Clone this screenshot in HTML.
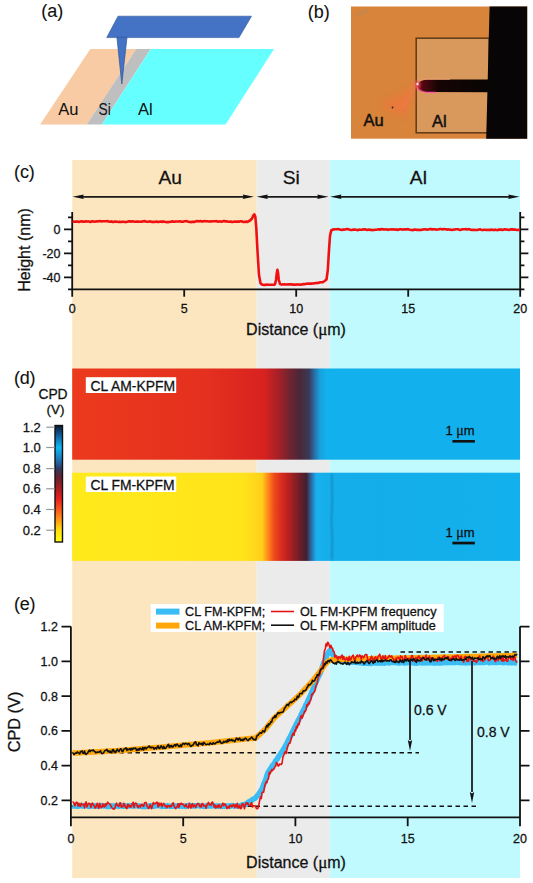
<!DOCTYPE html><html><head><meta charset="utf-8"><style>
html,body{margin:0;padding:0;background:#fff;width:533px;height:883px;overflow:hidden}
svg{display:block}
text{font-family:"Liberation Sans",sans-serif;fill:#111;stroke:#111;stroke-width:0.28px}
</style></head><body>
<svg width="533" height="883" viewBox="0 0 533 883">
<defs>
<linearGradient id="amg" x1="72.2" x2="520" y1="0" y2="0" gradientUnits="userSpaceOnUse">
<stop offset="0" stop-color="#EC3A1E"/>
<stop offset="0.30" stop-color="#E4301E"/>
<stop offset="0.428" stop-color="#D82220"/>
<stop offset="0.464" stop-color="#A02028"/>
<stop offset="0.486" stop-color="#6E2430"/>
<stop offset="0.509" stop-color="#4A2838"/>
<stop offset="0.529" stop-color="#3A3A5A"/>
<stop offset="0.540" stop-color="#2A6AA0"/>
<stop offset="0.553" stop-color="#18A0DC"/>
<stop offset="0.567" stop-color="#12B0EC"/>
<stop offset="1" stop-color="#12B0EC"/>
</linearGradient>
<linearGradient id="fmg" x1="72.2" x2="520" y1="0" y2="0" gradientUnits="userSpaceOnUse">
<stop offset="0" stop-color="#FFEA1C"/>
<stop offset="0.38" stop-color="#FFE41A"/>
<stop offset="0.424" stop-color="#FFD01A"/>
<stop offset="0.437" stop-color="#FF8A1A"/>
<stop offset="0.451" stop-color="#EE4A1C"/>
<stop offset="0.468" stop-color="#D82A1E"/>
<stop offset="0.486" stop-color="#B02020"/>
<stop offset="0.509" stop-color="#6A1E28"/>
<stop offset="0.523" stop-color="#402030"/>
<stop offset="0.534" stop-color="#2A6AA8"/>
<stop offset="0.545" stop-color="#18B0EE"/>
<stop offset="0.58" stop-color="#14AEEA"/>
<stop offset="1" stop-color="#12B0EC"/>
</linearGradient>
<linearGradient id="cbg" x1="0" x2="0" y1="0" y2="1">
<stop offset="0" stop-color="#0A1A30"/>
<stop offset="0.08" stop-color="#105A98"/>
<stop offset="0.19" stop-color="#10B8F5"/>
<stop offset="0.30" stop-color="#2070B0"/>
<stop offset="0.37" stop-color="#303A60"/>
<stop offset="0.45" stop-color="#6A2030"/>
<stop offset="0.55" stop-color="#B01C20"/>
<stop offset="0.63" stop-color="#E82020"/>
<stop offset="0.76" stop-color="#FF7018"/>
<stop offset="0.9" stop-color="#FFE010"/>
<stop offset="1" stop-color="#FFFF10"/>
</linearGradient>
<filter id="blur3" x="-50%" y="-50%" width="200%" height="200%"><feGaussianBlur stdDeviation="3.5"/></filter>
<filter id="blur1" x="-50%" y="-50%" width="200%" height="200%"><feGaussianBlur stdDeviation="1.2"/></filter>
<filter id="blur2" x="-50%" y="-50%" width="200%" height="200%"><feGaussianBlur stdDeviation="2.5"/></filter>
<linearGradient id="cantg" x1="416" x2="490" y1="0" y2="0" gradientUnits="userSpaceOnUse">
<stop offset="0" stop-color="#9A0A1C"/>
<stop offset="0.1" stop-color="#500810"/>
<stop offset="0.3" stop-color="#160404"/>
<stop offset="1" stop-color="#080505"/>
</linearGradient>
<radialGradient id="glow" cx="0.5" cy="0.5" r="0.5">
<stop offset="0" stop-color="#FF6060" stop-opacity="0.9"/>
<stop offset="1" stop-color="#FF6060" stop-opacity="0"/>
</radialGradient>
<marker id="ah" viewBox="0 0 12 6" refX="12" refY="3" markerWidth="12" markerHeight="6" markerUnits="userSpaceOnUse" orient="auto">
<path d="M0,0 L12,3 L0,6 L3,3 z" fill="#222"/>
</marker>
</defs>

<rect x="72.2" y="160" width="184.5" height="718" fill="#FCE6C0"/>
<rect x="256.7" y="160" width="73.1" height="718" fill="#EBEBEB"/>
<rect x="329.8" y="160" width="190.2" height="718" fill="#C0FAFE"/>
<text x="41.2" y="17.2" font-size="18" textLength="22" lengthAdjust="spacing" style="stroke-width:0.1px">(a)</text>
<polygon points="90.3,49 136.2,49 86.7,124.4 40.1,124.4" fill="#F8CBA4"/>
<polygon points="136.2,49 150.7,49 101.8,124.4 86.7,124.4" fill="#BFBFBF"/>
<polygon points="150.7,49 274,49 225.6,124.4 101.8,124.4" fill="#66FFFF"/>
<polygon points="118,16.2 251.5,16.2 239,37.6 106.7,37.6" fill="#4472C4" stroke="#2F5597" stroke-width="0.6"/>
<polygon points="116.9,37.3 127,37.3 121.8,84" fill="#4472C4" stroke="#2F5597" stroke-width="0.7"/>
<text x="58.2" y="114.5" font-size="16.5" style="stroke-width:0.05px">Au</text>
<text x="98.6" y="114.5" font-size="16.5" textLength="12.2" lengthAdjust="spacingAndGlyphs" style="stroke-width:0.05px">Si</text>
<text x="138" y="114.5" font-size="16.5" style="stroke-width:0.05px">Al</text>
<text x="307.8" y="18" font-size="18" textLength="22" lengthAdjust="spacing" style="stroke-width:0.1px">(b)</text>
<rect x="351" y="6.5" width="176.2" height="132.2" fill="#D8843A"/>
<path d="M356,15 L366,9 L368,11 L358,17 z" fill="#A88A70" opacity="0.45" filter="url(#blur1)"/>
<rect x="416.2" y="38.2" width="73" height="94.6" fill="#DA995C" stroke="#5E3A18" stroke-width="1.5"/>
<path d="M416.5,86 L405,118 L378,104 z" fill="#FF6A40" opacity="0.4" filter="url(#blur3)"/>
<path d="M416.5,86 L400,106 L404,108 z" fill="#FF7858" opacity="0.35" filter="url(#blur1)"/>
<polygon points="489.6,6.5 527.2,6.5 527.2,138.7 486.2,138.7" fill="#070505"/>
<path d="M490,79.6 L425,79.6 Q418,80 416,85.5 Q418,91.5 425,92 L490,92.3 z" fill="url(#cantg)"/>
<path d="M417,87 Q419,91 426,92.3 L436,92.5" stroke="#FF50B0" stroke-width="1.3" fill="none" opacity="0.85"/>
<path d="M418,83 Q420,80 426,79.3 L450,79.2" stroke="#FFB080" stroke-width="1.1" fill="none" opacity="0.75"/>
<ellipse cx="417" cy="85" rx="5" ry="6" fill="url(#glow)"/>
<circle cx="417.5" cy="84" r="1.2" fill="#FFE0F0"/>
<circle cx="392.5" cy="107.5" r="0.9" fill="#222"/>
<text x="363.5" y="126.3" font-size="16.5" style="stroke-width:0.5px">Au</text>
<text x="432" y="126.5" font-size="16.5" style="stroke-width:0.5px">Al</text>
<text x="14" y="177.9" font-size="18" textLength="20.8" lengthAdjust="spacing" style="stroke-width:0.1px">(c)</text>
<text x="170.3" y="184" font-size="19.2" text-anchor="middle">Au</text>
<text x="291.3" y="184" font-size="19.2" text-anchor="middle">Si</text>
<text x="418.4" y="184" font-size="19.2" text-anchor="middle">Al</text>
<line x1="80.5" y1="196.8" x2="246.0" y2="196.8" stroke="#1a1a1a" stroke-width="1.8"/>
<path d="M72.5,196.8 L83.8,194.5 L82.8,196.8 L83.8,199.1 z" fill="#111"/>
<path d="M254.0,196.8 L242.7,194.5 L243.7,196.8 L242.7,199.1 z" fill="#111"/>
<line x1="264.6" y1="196.8" x2="320.5" y2="196.8" stroke="#1a1a1a" stroke-width="1.8"/>
<path d="M256.6,196.8 L267.9,194.5 L266.9,196.8 L267.9,199.1 z" fill="#111"/>
<path d="M328.5,196.8 L317.2,194.5 L318.2,196.8 L317.2,199.1 z" fill="#111"/>
<line x1="338.2" y1="196.8" x2="511.5" y2="196.8" stroke="#1a1a1a" stroke-width="1.8"/>
<path d="M330.2,196.8 L341.5,194.5 L340.5,196.8 L341.5,199.1 z" fill="#111"/>
<path d="M519.5,196.8 L508.2,194.5 L509.2,196.8 L508.2,199.1 z" fill="#111"/>
<path d="M72.2,211.9 V296.7 M520.2,211.9 V296.7 M72.2,289.4 H520.2" stroke="#111" stroke-width="1.8" fill="none"/>
<path d="M184.2,289.4 V296.7" stroke="#111" stroke-width="1.8" fill="none"/>
<path d="M296.2,289.4 V296.7" stroke="#111" stroke-width="1.8" fill="none"/>
<path d="M408.2,289.4 V296.7" stroke="#111" stroke-width="1.8" fill="none"/>
<path d="M64,229.3 H72.2 M520.2,229.3 H528.4" stroke="#111" stroke-width="1.8" fill="none"/>
<path d="M64,253.3 H72.2 M520.2,253.3 H528.4" stroke="#111" stroke-width="1.8" fill="none"/>
<path d="M64,277.3 H72.2 M520.2,277.3 H528.4" stroke="#111" stroke-width="1.8" fill="none"/>
<path d="M68,217.3 H72.2 M520.2,217.3 H524.4" stroke="#111" stroke-width="1.8" fill="none"/>
<path d="M68,241.3 H72.2 M520.2,241.3 H524.4" stroke="#111" stroke-width="1.8" fill="none"/>
<path d="M68,265.3 H72.2 M520.2,265.3 H524.4" stroke="#111" stroke-width="1.8" fill="none"/>
<path d="M68,289.3 H72.2 M520.2,289.3 H524.4" stroke="#111" stroke-width="1.8" fill="none"/>
<text x="60.5" y="233.6" font-size="12.5" text-anchor="end">0</text>
<text x="60.5" y="257.6" font-size="12.5" text-anchor="end">-20</text>
<text x="60.5" y="281.6" font-size="12.5" text-anchor="end">-40</text>
<text x="72.2" y="313" font-size="12.5" text-anchor="middle">0</text>
<text x="184.2" y="313" font-size="12.5" text-anchor="middle">5</text>
<text x="296.2" y="313" font-size="12.5" text-anchor="middle">10</text>
<text x="408.2" y="313" font-size="12.5" text-anchor="middle">15</text>
<text x="520.2" y="313" font-size="12.5" text-anchor="middle">20</text>
<text x="296" y="334.8" font-size="16" text-anchor="middle">Distance (<tspan font-family="Liberation Serif" font-size="17">μ</tspan>m)</text>
<text transform="translate(29.5,250) rotate(-90)" font-size="16" text-anchor="middle">Height (nm)</text>
<polyline points="72.5,221.3 73.5,221.7 74.5,221.8 75.5,221.6 76.5,221.6 77.5,221.6 78.5,221.7 79.5,221.9 80.5,221.5 81.5,221.2 82.5,221.6 83.5,221.5 84.5,221.8 85.5,221.3 86.5,221.4 87.5,221.6 88.5,221.4 89.5,221.8 90.5,222.0 91.5,221.5 92.5,221.2 93.5,221.4 94.5,221.8 95.5,221.6 96.5,221.4 97.5,221.4 98.5,221.2 99.5,221.1 100.5,221.3 101.5,221.4 102.5,221.3 103.5,221.2 104.5,221.2 105.5,221.3 106.5,221.3 107.5,221.1 108.5,221.5 109.5,221.6 110.5,221.7 111.5,221.4 112.5,221.9 113.5,222.0 114.5,221.6 115.5,221.5 116.5,221.7 117.5,221.8 118.5,222.0 119.5,221.8 120.5,222.0 121.5,221.9 122.5,221.7 123.5,221.7 124.5,221.9 125.5,222.1 126.5,221.9 127.5,221.8 128.5,221.4 129.5,221.3 130.5,221.6 131.5,221.6 132.5,221.3 133.5,221.5 134.5,221.7 135.5,221.8 136.5,221.6 137.5,221.6 138.5,221.6 139.5,221.8 140.5,221.7 141.5,221.6 142.5,221.6 143.5,221.3 144.5,221.1 145.5,221.4 146.5,221.8 147.5,221.8 148.5,221.7 149.5,221.4 150.5,221.5 151.5,221.9 152.5,222.0 153.5,221.8 154.5,222.0 155.5,221.7 156.5,221.6 157.5,221.9 158.5,221.9 159.5,221.7 160.5,221.5 161.5,221.6 162.5,221.9 163.5,221.4 164.5,221.7 165.5,221.9 166.5,222.1 167.5,222.0 168.5,222.1 169.5,221.9 170.5,221.8 171.5,221.7 172.5,221.3 173.5,221.7 174.5,221.7 175.5,221.5 176.5,221.5 177.5,221.5 178.5,221.5 179.5,221.4 180.5,221.5 181.5,221.6 182.5,221.7 183.5,221.6 184.5,221.3 185.5,221.2 186.5,221.1 187.5,221.4 188.5,221.7 189.5,221.9 190.5,222.0 191.5,222.1 192.5,221.7 193.5,221.9 194.5,221.9 195.5,221.5 196.5,221.2 197.5,221.0 198.5,221.4 199.5,221.3 200.5,221.1 201.5,221.4 202.5,221.4 203.5,221.2 204.5,221.1 205.5,221.3 206.5,221.2 207.5,221.2 208.5,221.5 209.5,221.5 210.5,221.4 211.5,221.5 212.5,221.2 213.5,221.3 214.5,221.3 215.5,221.2 216.5,221.1 217.5,221.6 218.5,221.6 219.5,221.4 220.5,221.5 221.5,221.8 222.5,221.4 223.5,221.1 224.5,221.1 225.5,221.4 226.5,221.3 227.5,221.5 228.5,221.7 229.5,221.7 230.5,221.5 231.5,221.9 232.5,222.0 233.5,221.8 234.5,221.5 235.5,221.7 236.5,221.6 237.5,221.6 238.5,221.5 239.5,221.6 240.5,221.3 241.5,221.3 242.5,221.7 243.5,222.0 244.5,221.7 245.5,221.9 246.5,221.6 247.5,221.9 250.0,220.5 252.0,218.5 253.3,215.5 254.3,214.3 255.3,216.5 256.3,228.0 257.5,251.0 259.0,275.0 260.5,283.3 262.0,284.6 263.0,284.7 264.0,284.9 265.0,285.0 266.0,284.7 267.0,284.5 268.0,284.7 269.0,284.8 270.0,284.8 271.0,284.7 272.0,284.7 273.0,284.8 274.0,284.8 275.0,284.3 276.0,280.0 276.8,273.0 277.4,269.8 278.0,272.5 278.8,280.0 280.0,284.0 281.5,284.6 282.5,284.4 283.5,284.5 284.5,284.4 285.5,284.5 286.5,284.5 287.5,284.4 288.5,284.2 289.5,284.5 290.5,284.4 291.5,284.3 292.5,284.6 293.5,284.5 294.5,284.7 295.5,284.6 296.5,284.6 297.5,284.4 298.5,284.5 299.5,284.7 300.5,284.6 301.5,284.5 302.5,284.4 303.5,284.1 304.5,284.1 305.5,284.0 306.5,283.8 307.5,283.5 308.5,283.7 309.5,283.6 310.5,283.5 311.5,283.6 312.5,283.5 313.5,283.4 314.5,283.2 315.5,283.2 316.5,282.9 317.5,283.0 318.5,282.9 319.5,282.6 320.5,282.3 321.5,282.2 322.5,282.3 324.6,281.0 326.5,279.5 327.8,270.0 329.0,250.0 330.0,236.0 331.2,230.5 333.0,229.5 334.0,229.4 335.0,229.2 336.0,229.3 337.0,229.2 338.0,229.0 339.0,229.2 340.0,229.7 341.0,229.8 342.0,229.9 343.0,229.6 344.0,229.6 345.0,229.5 346.0,229.3 347.0,229.1 348.0,229.1 349.0,229.6 350.0,229.8 351.0,230.0 352.0,230.0 353.0,229.6 354.0,229.5 355.0,229.6 356.0,229.8 357.0,230.0 358.0,230.1 359.0,229.6 360.0,229.7 361.0,229.8 362.0,229.7 363.0,229.4 364.0,229.5 365.0,229.2 366.0,229.7 367.0,229.9 368.0,229.8 369.0,229.6 370.0,229.9 371.0,229.8 372.0,230.0 373.0,230.1 374.0,229.9 375.0,229.7 376.0,229.7 377.0,229.6 378.0,229.4 379.0,229.3 380.0,229.7 381.0,229.3 382.0,229.1 383.0,229.4 384.0,229.3 385.0,229.5 386.0,229.5 387.0,229.4 388.0,229.9 389.0,229.5 390.0,229.5 391.0,229.3 392.0,229.5 393.0,229.4 394.0,229.4 395.0,229.6 396.0,229.5 397.0,229.6 398.0,229.9 399.0,229.5 400.0,229.2 401.0,229.2 402.0,229.5 403.0,229.6 404.0,229.4 405.0,229.4 406.0,229.2 407.0,229.4 408.0,229.1 409.0,229.5 410.0,229.8 411.0,230.0 412.0,230.0 413.0,230.2 414.0,229.6 415.0,229.5 416.0,229.8 417.0,229.9 418.0,229.7 419.0,230.0 420.0,229.9 421.0,230.0 422.0,229.7 423.0,229.4 424.0,229.5 425.0,229.3 426.0,229.3 427.0,229.8 428.0,229.6 429.0,229.2 430.0,229.1 431.0,229.0 432.0,229.5 433.0,229.4 434.0,229.3 435.0,229.2 436.0,229.7 437.0,229.6 438.0,229.4 439.0,229.2 440.0,229.0 441.0,229.0 442.0,229.4 443.0,229.2 444.0,229.0 445.0,229.3 446.0,229.2 447.0,229.7 448.0,229.4 449.0,229.5 450.0,229.7 451.0,229.6 452.0,230.0 453.0,229.8 454.0,229.5 455.0,229.5 456.0,229.2 457.0,229.3 458.0,229.2 459.0,229.7 460.0,229.9 461.0,229.8 462.0,229.4 463.0,229.3 464.0,229.2 465.0,229.2 466.0,229.1 467.0,229.6 468.0,229.3 469.0,229.1 470.0,229.6 471.0,229.7 472.0,230.0 473.0,229.8 474.0,230.0 475.0,229.9 476.0,230.0 477.0,230.0 478.0,229.9 479.0,229.5 480.0,229.3 481.0,229.7 482.0,229.9 483.0,230.1 484.0,229.8 485.0,229.8 486.0,230.0 487.0,229.9 488.0,230.0 489.0,229.9 490.0,229.9 491.0,229.9 492.0,229.6 493.0,229.9 494.0,230.1 495.0,229.6 496.0,229.9 497.0,230.1 498.0,230.0 499.0,229.5 500.0,229.9 501.0,229.5 502.0,229.9 503.0,229.9 504.0,229.5 505.0,229.3 506.0,229.5 507.0,229.6 508.0,229.8 509.0,230.0 510.0,229.6 511.0,229.3 512.0,229.7 513.0,229.3 514.0,229.7 515.0,229.4 516.0,229.7 517.0,229.9 518.0,230.0 519.0,229.9 520.0,230.0" fill="none" stroke="#F01010" stroke-width="2.6" stroke-linejoin="round"/>
<text x="14" y="384.3" font-size="18" textLength="21.4" lengthAdjust="spacing" style="stroke-width:0.1px">(d)</text>
<text x="53" y="399" font-size="13.8" text-anchor="middle">CPD</text>
<text x="55.5" y="413.8" font-size="13.5" text-anchor="middle">(V)</text>
<rect x="72.2" y="368.5" width="447.8" height="91.2" fill="url(#amg)"/>
<rect x="72.2" y="472.7" width="447.8" height="88.2" fill="url(#fmg)"/>
<rect x="85.8" y="377.2" width="90.4" height="15.8" fill="#fff"/>
<path d="M331.5,474 L332.5,500 L331,520 L332.5,540 L331.8,560" stroke="#1A6AA0" stroke-width="1.8" fill="none" opacity="0.55" filter="url(#blur1)"/>
<rect x="85.8" y="476.5" width="90.4" height="15.5" fill="#fff"/>
<text x="90.5" y="390.5" font-size="13.9" textLength="84.5" lengthAdjust="spacing">CL AM-KPFM</text>
<text x="90.5" y="489.6" font-size="13.9" textLength="84" lengthAdjust="spacing">CL FM-KPFM</text>
<text x="460" y="435" font-size="13" text-anchor="middle">1 <tspan font-family="Liberation Serif" font-size="14">μ</tspan>m</text>
<rect x="452.4" y="440" width="22.5" height="2.6" fill="#111"/>
<text x="460" y="536.6" font-size="13" text-anchor="middle">1 <tspan font-family="Liberation Serif" font-size="14">μ</tspan>m</text>
<rect x="452.4" y="541.7" width="22.5" height="2.7" fill="#111"/>
<rect x="55" y="425.5" width="7.5" height="116.5" fill="url(#cbg)" stroke="#111" stroke-width="1.4"/>
<line x1="46.2" y1="427.2" x2="54.7" y2="427.2" stroke="#999" stroke-width="1.2"/>
<text x="40.8" y="431.7" font-size="13" text-anchor="end">1.2</text>
<line x1="46.2" y1="447.5" x2="54.7" y2="447.5" stroke="#999" stroke-width="1.2"/>
<text x="40.8" y="452.0" font-size="13" text-anchor="end">1.0</text>
<line x1="46.2" y1="468.6" x2="54.7" y2="468.6" stroke="#999" stroke-width="1.2"/>
<text x="40.8" y="473.1" font-size="13" text-anchor="end">0.8</text>
<line x1="46.2" y1="488.8" x2="54.7" y2="488.8" stroke="#999" stroke-width="1.2"/>
<text x="40.8" y="493.3" font-size="13" text-anchor="end">0.6</text>
<line x1="46.2" y1="509.5" x2="54.7" y2="509.5" stroke="#999" stroke-width="1.2"/>
<text x="40.8" y="514.0" font-size="13" text-anchor="end">0.4</text>
<line x1="46.2" y1="530.2" x2="54.7" y2="530.2" stroke="#999" stroke-width="1.2"/>
<text x="40.8" y="534.7" font-size="13" text-anchor="end">0.2</text>
<text x="14" y="609.6" font-size="18" textLength="21.4" lengthAdjust="spacing" style="stroke-width:0.1px">(e)</text>
<path d="M70.9,626.5 V826.2 M520.0,626.5 V826.2 M70.9,817.4 H520.0" stroke="#111" stroke-width="1.8" fill="none"/>
<path d="M183.2,817.4 V826.2" stroke="#111" stroke-width="1.8" fill="none"/>
<path d="M295.4,817.4 V826.2" stroke="#111" stroke-width="1.8" fill="none"/>
<path d="M407.7,817.4 V826.2" stroke="#111" stroke-width="1.8" fill="none"/>
<path d="M61.5,626.7 H70.9 M520.0,626.7 H529.5" stroke="#111" stroke-width="1.8" fill="none"/>
<text x="58" y="631.2" font-size="12.5" text-anchor="end">1.2</text>
<path d="M61.5,661.4 H70.9 M520.0,661.4 H529.5" stroke="#111" stroke-width="1.8" fill="none"/>
<text x="58" y="665.9" font-size="12.5" text-anchor="end">1.0</text>
<path d="M61.5,696.1 H70.9 M520.0,696.1 H529.5" stroke="#111" stroke-width="1.8" fill="none"/>
<text x="58" y="700.6" font-size="12.5" text-anchor="end">0.8</text>
<path d="M61.5,730.9 H70.9 M520.0,730.9 H529.5" stroke="#111" stroke-width="1.8" fill="none"/>
<text x="58" y="735.4" font-size="12.5" text-anchor="end">0.6</text>
<path d="M61.5,765.6 H70.9 M520.0,765.6 H529.5" stroke="#111" stroke-width="1.8" fill="none"/>
<text x="58" y="770.1" font-size="12.5" text-anchor="end">0.4</text>
<path d="M61.5,800.3 H70.9 M520.0,800.3 H529.5" stroke="#111" stroke-width="1.8" fill="none"/>
<text x="58" y="804.8" font-size="12.5" text-anchor="end">0.2</text>
<text x="70.9" y="843" font-size="12.5" text-anchor="middle">0</text>
<text x="183.2" y="843" font-size="12.5" text-anchor="middle">5</text>
<text x="295.4" y="843" font-size="12.5" text-anchor="middle">10</text>
<text x="407.7" y="843" font-size="12.5" text-anchor="middle">15</text>
<text x="520.0" y="843" font-size="12.5" text-anchor="middle">20</text>
<text x="296" y="867.6" font-size="16" text-anchor="middle">Distance (<tspan font-family="Liberation Serif" font-size="17">μ</tspan>m)</text>
<text transform="translate(20,722) rotate(-90)" font-size="16.3" text-anchor="middle">CPD (V)</text>
<line x1="400.5" y1="652.1" x2="516.6" y2="652.1" stroke="#111" stroke-width="1.5" stroke-dasharray="4.5,3.5"/>
<line x1="71.5" y1="752.8" x2="419" y2="752.8" stroke="#111" stroke-width="1.5" stroke-dasharray="4.5,3.5"/>
<line x1="71.5" y1="806.3" x2="479" y2="806.3" stroke="#111" stroke-width="1.5" stroke-dasharray="4.5,3.5"/>
<polyline points="72.5,805.8 73.3,806.0 74.1,806.1 74.9,806.0 75.7,805.8 76.5,806.1 77.3,806.3 78.1,806.2 78.9,806.1 79.7,805.9 80.5,805.6 81.3,805.6 82.1,805.9 82.9,805.6 83.7,806.0 84.5,805.8 85.3,805.7 86.1,805.5 86.9,806.0 87.7,806.2 88.5,806.4 89.3,806.3 90.1,805.9 90.9,805.8 91.7,805.9 92.5,805.6 93.3,806.1 94.1,806.0 94.9,805.7 95.7,806.1 96.5,805.8 97.3,806.2 98.1,806.1 98.9,806.1 99.7,805.9 100.5,805.9 101.3,805.7 102.1,805.5 102.9,806.0 103.7,805.8 104.5,806.1 105.3,805.8 106.1,806.2 106.9,806.4 107.7,806.4 108.5,806.5 109.3,806.3 110.1,806.4 110.9,805.9 111.7,806.0 112.5,806.2 113.3,805.9 114.1,806.2 114.9,806.4 115.7,806.2 116.5,806.0 117.3,806.0 118.1,805.9 118.9,806.3 119.7,806.1 120.5,805.7 121.3,805.5 122.1,805.9 122.9,806.3 123.7,806.2 124.5,806.1 125.3,806.1 126.1,806.2 126.9,805.9 127.7,806.0 128.5,806.1 129.3,806.1 130.1,805.8 130.9,805.7 131.7,805.7 132.5,806.1 133.3,806.0 134.1,806.0 134.9,805.9 135.7,805.6 136.5,805.5 137.3,805.9 138.1,806.1 138.9,806.0 139.7,806.1 140.5,806.2 141.3,806.4 142.1,806.6 142.9,806.3 143.7,806.5 144.5,806.6 145.3,806.5 146.1,806.5 146.9,806.3 147.7,806.1 148.5,805.9 149.3,806.2 150.1,805.9 150.9,805.6 151.7,806.0 152.5,806.2 153.3,806.1 154.1,806.3 154.9,805.9 155.7,805.7 156.5,805.7 157.3,805.8 158.1,805.6 158.9,805.5 159.7,805.6 160.5,806.0 161.3,806.4 162.1,806.4 162.9,806.2 163.7,806.0 164.5,806.3 165.3,806.2 166.1,806.3 166.9,805.8 167.7,805.7 168.5,806.1 169.3,806.2 170.1,806.4 170.9,806.3 171.7,806.1 172.5,806.1 173.3,806.3 174.1,806.1 174.9,806.1 175.7,805.9 176.5,806.1 177.3,805.7 178.1,806.0 178.9,806.3 179.7,805.8 180.5,806.0 181.3,806.1 182.1,806.3 182.9,806.2 183.7,806.0 184.5,805.9 185.3,806.3 186.1,806.5 186.9,806.0 187.7,805.7 188.5,805.5 189.3,805.4 190.1,805.6 190.9,805.5 191.7,806.0 192.5,806.1 193.3,805.8 194.1,805.9 194.9,805.8 195.7,805.9 196.5,805.7 197.3,805.6 198.1,805.5 198.9,805.6 199.7,805.9 200.5,806.0 201.3,805.7 202.1,806.0 202.9,806.2 203.7,806.3 204.5,806.4 205.3,805.9 206.1,805.9 206.9,805.6 207.7,806.0 208.5,805.7 209.3,806.0 210.1,805.8 210.9,806.0 211.7,805.9 212.5,805.6 213.3,805.7 214.1,805.7 214.9,806.1 215.7,805.9 216.5,805.9 217.3,806.0 218.1,806.3 218.9,805.9 219.7,806.0 220.5,806.0 221.3,806.2 222.1,806.4 222.9,806.1 223.7,806.2 224.5,806.2 225.3,806.1 226.1,805.8 226.9,806.1 227.7,806.4 228.5,806.1 229.3,805.9 230.1,806.3 230.9,805.9 231.7,805.6 232.5,805.5 233.3,805.9 234.1,806.1 234.9,806.0 235.7,806.1 236.5,805.7 237.3,805.9 238.1,805.9 238.9,806.0 239.7,805.9 240.5,805.7 241.3,805.3 242.1,804.9 242.9,804.8 243.7,804.5 244.5,804.6 245.3,804.5 246.1,804.1 246.9,803.4 247.7,802.6 248.5,802.1 249.3,801.6 250.1,801.2 250.9,801.0 251.7,800.1 252.5,799.6 253.3,799.1 254.1,798.7 254.9,798.4 255.7,797.8 256.5,796.7 257.3,795.7 258.1,794.6 258.9,793.6 259.7,792.5 260.5,791.4 261.3,790.0 262.1,788.8 262.9,786.5 263.7,784.3 264.5,782.4 265.3,780.4 266.1,778.4 266.9,775.6 267.7,773.3 268.5,771.7 269.3,770.5 270.1,769.1 270.9,768.1 271.7,766.6 272.5,765.5 273.3,764.7 274.1,763.7 274.9,762.4 275.7,760.8 276.5,760.0 277.3,758.9 278.1,757.4 278.9,756.1 279.7,755.1 280.5,754.0 281.3,752.6 282.1,751.7 282.9,750.3 283.7,748.9 284.5,748.0 285.3,746.2 286.1,744.8 286.9,743.0 287.7,741.6 288.5,739.8 289.3,738.2 290.1,737.0 290.9,735.3 291.7,733.6 292.5,732.1 293.3,730.3 294.1,728.5 294.9,727.0 295.7,725.3 296.5,723.6 297.3,722.5 298.1,720.5 298.9,719.3 299.7,718.0 300.5,716.4 301.3,714.3 302.1,712.8 302.9,710.9 303.7,709.5 304.5,708.1 305.3,706.3 306.1,704.4 306.9,703.1 307.7,701.3 308.5,699.5 309.3,697.8 310.1,696.3 310.9,694.3 311.7,692.2 312.5,690.6 313.3,689.0 314.1,687.0 314.9,684.7 315.7,682.7 316.5,680.9 317.3,679.2 318.1,677.2 318.9,675.7 319.7,674.0 320.5,672.4 321.3,670.3 322.1,667.6 322.9,665.6 323.7,663.1 324.5,661.4 325.3,659.4 326.1,657.4 326.9,655.0 327.7,653.4 328.5,652.4 329.3,651.1 330.1,650.5 330.9,651.7 331.7,653.1 332.5,654.2 333.3,655.3 334.1,656.5 334.9,657.7 335.7,658.4 336.5,659.0 337.3,658.8 338.1,658.9 338.9,659.3 339.7,659.8 340.5,659.8 341.3,660.0 342.1,660.1 342.9,660.2 343.7,660.7 344.5,661.2 345.3,661.6 346.1,661.4 346.9,661.3 347.7,661.8 348.5,661.9 349.3,661.8 350.1,662.1 350.9,662.2 351.7,662.2 352.5,661.9 353.3,662.3 354.1,662.1 354.9,661.9 355.7,662.1 356.5,662.3 357.3,662.5 358.1,662.4 358.9,662.7 359.7,662.8 360.5,662.6 361.3,662.9 362.1,663.1 362.9,663.3 363.7,663.2 364.5,662.8 365.3,663.0 366.1,663.2 366.9,663.1 367.7,663.2 368.5,663.4 369.3,663.1 370.1,663.3 370.9,663.4 371.7,663.4 372.5,662.8 373.3,662.7 374.1,662.8 374.9,662.9 375.7,663.0 376.5,663.0 377.3,662.7 378.1,663.0 378.9,662.9 379.7,663.1 380.5,662.8 381.3,663.1 382.1,663.0 382.9,663.1 383.7,663.1 384.5,663.3 385.3,663.0 386.1,662.6 386.9,662.6 387.7,662.4 388.5,662.6 389.3,662.9 390.1,662.7 390.9,662.5 391.7,662.2 392.5,662.4 393.3,662.6 394.1,662.3 394.9,662.6 395.7,662.4 396.5,662.3 397.3,662.8 398.1,662.8 398.9,663.0 399.7,662.9 400.5,662.6 401.3,662.4 402.1,662.5 402.9,662.7 403.7,662.9 404.5,663.0 405.3,663.0 406.1,662.7 406.9,662.7 407.7,662.6 408.5,662.6 409.3,662.5 410.1,662.6 410.9,662.6 411.7,662.3 412.5,662.7 413.3,662.8 414.1,663.0 414.9,663.0 415.7,663.1 416.5,663.3 417.3,662.9 418.1,662.8 418.9,662.4 419.7,662.6 420.5,662.7 421.3,662.7 422.1,663.1 422.9,662.7 423.7,662.5 424.5,662.7 425.3,662.9 426.1,662.8 426.9,662.4 427.7,662.4 428.5,662.8 429.3,662.7 430.1,662.7 430.9,662.6 431.7,662.7 432.5,662.8 433.3,662.9 434.1,663.0 434.9,663.1 435.7,662.8 436.5,662.6 437.3,662.8 438.1,663.0 438.9,663.1 439.7,662.7 440.5,662.9 441.3,663.1 442.1,662.6 442.9,662.5 443.7,662.6 444.5,662.4 445.3,662.7 446.1,662.5 446.9,662.7 447.7,662.5 448.5,662.4 449.3,662.3 450.1,662.4 450.9,662.6 451.7,662.4 452.5,662.6 453.3,662.5 454.1,662.7 454.9,662.5 455.7,662.4 456.5,662.2 457.3,662.0 458.1,662.4 458.9,662.4 459.7,662.2 460.5,662.7 461.3,662.7 462.1,662.3 462.9,662.6 463.7,662.7 464.5,662.6 465.3,662.6 466.1,662.9 466.9,662.7 467.7,662.8 468.5,662.8 469.3,662.6 470.1,662.5 470.9,662.7 471.7,662.8 472.5,662.7 473.3,662.6 474.1,662.4 474.9,662.7 475.7,662.3 476.5,662.5 477.3,662.5 478.1,662.3 478.9,662.5 479.7,662.6 480.5,662.3 481.3,662.4 482.1,662.2 482.9,662.6 483.7,662.4 484.5,662.4 485.3,662.2 486.1,662.0 486.9,662.0 487.7,662.0 488.5,662.3 489.3,662.7 490.1,662.4 490.9,662.2 491.7,662.4 492.5,662.2 493.3,662.2 494.1,662.5 494.9,662.3 495.7,662.6 496.5,662.6 497.3,662.3 498.1,662.2 498.9,662.4 499.7,662.2 500.5,662.1 501.3,662.3 502.1,662.6 502.9,662.6 503.7,662.7 504.5,662.3 505.3,662.2 506.1,662.2 506.9,662.6 507.7,662.5 508.5,662.7 509.3,662.3 510.1,662.4 510.9,662.7 511.7,662.8 512.5,662.8 513.3,662.4 514.1,662.8 514.9,662.4 515.7,662.7 516.5,662.8 517.3,662.9" fill="none" stroke="#3ABCF4" stroke-width="5.5" stroke-linejoin="round"/>
<polyline points="72.5,753.2 73.3,753.1 74.1,753.1 74.9,753.0 75.7,753.0 76.5,752.9 77.3,752.9 78.1,752.9 78.9,752.8 79.7,752.8 80.5,752.7 81.3,752.7 82.1,752.6 82.9,752.6 83.7,752.5 84.5,752.5 85.3,752.5 86.1,752.4 86.9,752.4 87.7,752.3 88.5,752.3 89.3,752.2 90.1,752.2 90.9,752.1 91.7,752.1 92.5,752.0 93.3,752.0 94.1,752.0 94.9,751.9 95.7,751.9 96.5,751.8 97.3,751.8 98.1,751.7 98.9,751.7 99.7,751.6 100.5,751.6 101.3,751.6 102.1,751.5 102.9,751.5 103.7,751.4 104.5,751.4 105.3,751.3 106.1,751.3 106.9,751.2 107.7,751.2 108.5,751.1 109.3,751.1 110.1,751.1 110.9,751.0 111.7,751.0 112.5,750.9 113.3,750.9 114.1,750.8 114.9,750.8 115.7,750.7 116.5,750.7 117.3,750.7 118.1,750.6 118.9,750.6 119.7,750.5 120.5,750.5 121.3,750.4 122.1,750.3 122.9,750.3 123.7,750.2 124.5,750.1 125.3,750.1 126.1,750.0 126.9,749.9 127.7,749.9 128.5,749.8 129.3,749.7 130.1,749.7 130.9,749.6 131.7,749.5 132.5,749.5 133.3,749.4 134.1,749.3 134.9,749.3 135.7,749.2 136.5,749.1 137.3,749.1 138.1,749.0 138.9,748.9 139.7,748.9 140.5,748.8 141.3,748.7 142.1,748.7 142.9,748.6 143.7,748.5 144.5,748.5 145.3,748.4 146.1,748.3 146.9,748.3 147.7,748.2 148.5,748.1 149.3,748.1 150.1,748.0 150.9,747.9 151.7,747.9 152.5,747.8 153.3,747.7 154.1,747.7 154.9,747.6 155.7,747.6 156.5,747.5 157.3,747.4 158.1,747.4 158.9,747.3 159.7,747.2 160.5,747.2 161.3,747.1 162.1,747.0 162.9,747.0 163.7,746.9 164.5,746.8 165.3,746.8 166.1,746.7 166.9,746.6 167.7,746.5 168.5,746.5 169.3,746.4 170.1,746.3 170.9,746.3 171.7,746.2 172.5,746.1 173.3,746.1 174.1,746.0 174.9,745.9 175.7,745.8 176.5,745.8 177.3,745.7 178.1,745.6 178.9,745.6 179.7,745.5 180.5,745.4 181.3,745.3 182.1,745.3 182.9,745.2 183.7,745.1 184.5,745.1 185.3,745.0 186.1,744.9 186.9,744.8 187.7,744.8 188.5,744.7 189.3,744.6 190.1,744.6 190.9,744.5 191.7,744.4 192.5,744.4 193.3,744.3 194.1,744.2 194.9,744.1 195.7,744.1 196.5,744.0 197.3,743.9 198.1,743.9 198.9,743.8 199.7,743.7 200.5,743.6 201.3,743.6 202.1,743.5 202.9,743.4 203.7,743.4 204.5,743.3 205.3,743.2 206.1,743.1 206.9,743.1 207.7,743.0 208.5,742.9 209.3,742.9 210.1,742.8 210.9,742.7 211.7,742.6 212.5,742.5 213.3,742.4 214.1,742.4 214.9,742.3 215.7,742.2 216.5,742.1 217.3,742.0 218.1,741.9 218.9,741.8 219.7,741.8 220.5,741.7 221.3,741.6 222.1,741.5 222.9,741.4 223.7,741.3 224.5,741.2 225.3,741.1 226.1,741.1 226.9,741.0 227.7,740.9 228.5,740.8 229.3,740.7 230.1,740.6 230.9,740.5 231.7,740.5 232.5,740.4 233.3,740.3 234.1,740.2 234.9,740.1 235.7,740.0 236.5,739.9 237.3,739.9 238.1,739.8 238.9,739.7 239.7,739.6 240.5,739.5 241.3,739.4 242.1,739.3 242.9,739.3 243.7,739.2 244.5,739.1 245.3,739.0 246.1,738.9 246.9,738.8 247.7,738.7 248.5,738.7 249.3,738.6 250.1,738.6 250.9,738.5 251.7,738.5 252.5,738.4 253.3,738.3 254.1,738.3 254.9,738.2 255.7,738.0 256.5,737.3 257.3,736.5 258.1,735.8 258.9,735.1 259.7,734.3 260.5,733.6 261.3,732.8 262.1,732.1 262.9,731.4 263.7,730.6 264.5,729.9 265.3,729.1 266.1,728.4 266.9,727.4 267.7,726.3 268.5,725.3 269.3,724.3 270.1,723.3 270.9,722.3 271.7,721.3 272.5,720.3 273.3,719.3 274.1,718.3 274.9,717.5 275.7,716.7 276.5,716.0 277.3,715.3 278.1,714.5 278.9,713.8 279.7,713.1 280.5,712.3 281.3,711.6 282.1,710.9 282.9,710.2 283.7,709.4 284.5,708.7 285.3,708.0 286.1,707.2 286.9,706.5 287.7,705.8 288.5,705.0 289.3,704.3 290.1,703.6 290.9,702.8 291.7,702.1 292.5,701.4 293.3,700.7 294.1,699.9 294.9,699.2 295.7,698.5 296.5,697.7 297.3,697.0 298.1,696.3 298.9,695.5 299.7,694.8 300.5,693.9 301.3,693.1 302.1,692.2 302.9,691.3 303.7,690.5 304.5,689.6 305.3,688.7 306.1,687.9 306.9,687.0 307.7,686.1 308.5,685.3 309.3,684.4 310.1,683.6 310.9,682.7 311.7,681.8 312.5,680.9 313.3,679.9 314.1,678.9 314.9,677.9 315.7,676.9 316.5,675.9 317.3,674.9 318.1,673.9 318.9,672.9 319.7,671.9 320.5,670.9 321.3,669.8 322.1,668.6 322.9,667.5 323.7,666.3 324.5,665.2 325.3,664.1 326.1,663.1 326.9,662.4 327.7,661.7 328.5,661.0 329.3,660.5 330.1,660.3 330.9,660.2 331.7,660.0 332.5,659.9 333.3,659.8 334.1,659.6 334.9,659.5 335.7,659.5 336.5,659.5 337.3,659.4 338.1,659.4 338.9,659.4 339.7,659.4 340.5,659.4 341.3,659.4 342.1,659.3 342.9,659.3 343.7,659.3 344.5,659.3 345.3,659.3 346.1,659.3 346.9,659.2 347.7,659.2 348.5,659.2 349.3,659.2 350.1,659.2 350.9,659.2 351.7,659.1 352.5,659.1 353.3,659.1 354.1,659.1 354.9,659.1 355.7,659.0 356.5,659.0 357.3,659.0 358.1,659.0 358.9,659.0 359.7,659.0 360.5,658.9 361.3,658.9 362.1,658.9 362.9,658.9 363.7,658.9 364.5,658.9 365.3,658.8 366.1,658.8 366.9,658.8 367.7,658.8 368.5,658.8 369.3,658.7 370.1,658.7 370.9,658.7 371.7,658.7 372.5,658.7 373.3,658.7 374.1,658.6 374.9,658.6 375.7,658.6 376.5,658.6 377.3,658.6 378.1,658.6 378.9,658.5 379.7,658.5 380.5,658.5 381.3,658.5 382.1,658.5 382.9,658.4 383.7,658.4 384.5,658.4 385.3,658.4 386.1,658.4 386.9,658.4 387.7,658.3 388.5,658.3 389.3,658.3 390.1,658.3 390.9,658.3 391.7,658.3 392.5,658.2 393.3,658.2 394.1,658.2 394.9,658.2 395.7,658.2 396.5,658.1 397.3,658.1 398.1,658.1 398.9,658.1 399.7,658.1 400.5,658.1 401.3,658.0 402.1,658.0 402.9,658.0 403.7,658.0 404.5,658.0 405.3,658.0 406.1,657.9 406.9,657.9 407.7,657.9 408.5,657.9 409.3,657.9 410.1,657.8 410.9,657.8 411.7,657.8 412.5,657.8 413.3,657.8 414.1,657.8 414.9,657.7 415.7,657.7 416.5,657.7 417.3,657.7 418.1,657.7 418.9,657.7 419.7,657.6 420.5,657.6 421.3,657.6 422.1,657.6 422.9,657.6 423.7,657.6 424.5,657.5 425.3,657.5 426.1,657.5 426.9,657.5 427.7,657.5 428.5,657.4 429.3,657.4 430.1,657.4 430.9,657.4 431.7,657.4 432.5,657.4 433.3,657.3 434.1,657.3 434.9,657.3 435.7,657.3 436.5,657.3 437.3,657.3 438.1,657.2 438.9,657.2 439.7,657.2 440.5,657.2 441.3,657.2 442.1,657.1 442.9,657.1 443.7,657.1 444.5,657.1 445.3,657.1 446.1,657.1 446.9,657.0 447.7,657.0 448.5,657.0 449.3,657.0 450.1,657.0 450.9,657.0 451.7,656.9 452.5,656.9 453.3,656.9 454.1,656.9 454.9,656.9 455.7,656.8 456.5,656.8 457.3,656.8 458.1,656.8 458.9,656.8 459.7,656.8 460.5,656.7 461.3,656.7 462.1,656.7 462.9,656.7 463.7,656.7 464.5,656.7 465.3,656.6 466.1,656.6 466.9,656.6 467.7,656.6 468.5,656.6 469.3,656.5 470.1,656.5 470.9,656.5 471.7,656.5 472.5,656.5 473.3,656.5 474.1,656.4 474.9,656.4 475.7,656.4 476.5,656.4 477.3,656.4 478.1,656.4 478.9,656.3 479.7,656.3 480.5,656.3 481.3,656.3 482.1,656.3 482.9,656.2 483.7,656.2 484.5,656.2 485.3,656.2 486.1,656.2 486.9,656.2 487.7,656.1 488.5,656.1 489.3,656.1 490.1,656.1 490.9,656.1 491.7,656.1 492.5,656.0 493.3,656.0 494.1,656.0 494.9,656.0 495.7,656.0 496.5,656.0 497.3,655.9 498.1,655.9 498.9,655.9 499.7,655.9 500.5,655.9 501.3,655.8 502.1,655.8 502.9,655.8 503.7,655.8 504.5,655.8 505.3,655.8 506.1,655.7 506.9,655.7 507.7,655.7 508.5,655.7 509.3,655.7 510.1,655.7 510.9,655.6 511.7,655.6 512.5,655.6 513.3,655.6 514.1,655.6 514.9,655.5 515.7,655.5 516.5,655.5 517.3,655.5" fill="none" stroke="#FFA70A" stroke-width="5.5" stroke-linejoin="round"/>
<polyline points="72.5,802.1 73.3,802.0 74.1,803.6 74.9,805.8 75.7,803.1 76.5,802.2 77.3,802.7 78.1,806.0 78.9,803.2 79.7,806.0 80.5,806.3 81.3,803.2 82.1,804.8 82.9,804.7 83.7,804.4 84.5,807.9 85.3,803.4 86.1,801.8 86.9,806.9 87.7,805.0 88.5,803.3 89.3,803.6 90.1,803.9 90.9,807.5 91.7,804.0 92.5,803.1 93.3,805.1 94.1,805.4 94.9,807.9 95.7,807.8 96.5,804.9 97.3,803.3 98.1,806.7 98.9,808.4 99.7,803.2 100.5,806.1 101.3,807.6 102.1,806.7 102.9,803.9 103.7,806.6 104.5,806.9 105.3,803.8 106.1,805.7 106.9,803.6 107.7,802.1 108.5,803.4 109.3,803.8 110.1,804.2 110.9,805.8 111.7,807.4 112.5,808.5 113.3,808.9 114.1,809.1 114.9,807.9 115.7,804.8 116.5,803.2 117.3,805.5 118.1,805.6 118.9,806.4 119.7,803.1 120.5,802.9 121.3,807.2 122.1,806.3 122.9,806.7 123.7,803.2 124.5,804.2 125.3,807.4 126.1,806.7 126.9,808.6 127.7,804.3 128.5,804.8 129.3,807.0 130.1,805.4 130.9,807.1 131.7,806.1 132.5,803.3 133.3,802.4 134.1,807.5 134.9,803.6 135.7,803.1 136.5,803.8 137.3,806.2 138.1,807.7 138.9,805.8 139.7,805.5 140.5,807.1 141.3,804.5 142.1,804.4 142.9,805.8 143.7,806.3 144.5,802.9 145.3,802.5 146.1,802.5 146.9,806.0 147.7,806.7 148.5,808.5 149.3,807.8 150.1,804.6 150.9,806.8 151.7,808.6 152.5,805.3 153.3,802.5 154.1,804.0 154.9,803.8 155.7,803.1 156.5,802.2 157.3,802.4 158.1,806.9 158.9,803.1 159.7,805.6 160.5,803.8 161.3,803.2 162.1,806.8 162.9,804.6 163.7,803.4 164.5,804.7 165.3,806.5 166.1,805.9 166.9,807.7 167.7,805.5 168.5,805.7 169.3,806.8 170.1,805.6 170.9,806.8 171.7,805.7 172.5,803.4 173.3,802.8 174.1,806.5 174.9,807.3 175.7,808.6 176.5,807.5 177.3,806.5 178.1,803.8 178.9,807.2 179.7,803.7 180.5,804.7 181.3,803.2 182.1,804.3 182.9,804.1 183.7,804.8 184.5,806.7 185.3,806.1 186.1,804.2 186.9,806.9 187.7,807.3 188.5,808.0 189.3,803.4 190.1,805.8 190.9,808.0 191.7,804.8 192.5,803.7 193.3,807.0 194.1,805.2 194.9,805.0 195.7,807.4 196.5,805.4 197.3,803.8 198.1,803.5 198.9,804.2 199.7,806.5 200.5,805.1 201.3,807.2 202.1,803.5 202.9,803.7 203.7,805.9 204.5,805.6 205.3,805.7 206.1,808.3 206.9,805.0 207.7,803.7 208.5,802.4 209.3,804.8 210.1,804.3 210.9,805.2 211.7,802.7 212.5,802.0 213.3,804.1 214.1,806.9 214.9,804.9 215.7,808.0 216.5,806.8 217.3,805.5 218.1,807.4 218.9,804.6 219.7,806.1 220.5,807.9 221.3,806.6 222.1,804.9 222.9,803.2 223.7,805.6 224.5,803.9 225.3,804.6 226.1,805.8 226.9,808.4 227.7,807.5 228.5,806.4 229.3,808.1 230.1,805.3 230.9,805.0 231.7,806.7 232.5,806.4 233.3,804.3 234.1,805.0 234.9,807.6 235.7,804.8 236.5,806.8 237.3,803.4 238.1,808.0 238.9,807.5 239.7,805.3 240.5,808.6 241.3,808.3 242.1,803.9 242.9,803.9 243.7,805.4 244.5,808.7 245.3,804.5 246.1,802.9 246.9,804.1 247.7,802.8 248.5,804.6 249.3,805.8 250.1,805.6 250.9,803.7 251.7,802.6 252.5,806.9 253.3,805.9 254.1,805.8 254.9,805.8 255.7,807.0 256.5,808.6 257.3,808.6 258.1,808.0 258.9,804.6 259.7,800.3 260.5,796.9 261.3,798.6 262.1,792.4 262.9,792.1 263.7,792.2 264.5,787.0 265.3,784.2 266.1,781.9 266.9,782.6 267.7,779.4 268.5,778.4 269.3,772.4 270.1,773.9 270.9,771.6 271.7,769.7 272.5,770.6 273.3,769.3 274.1,768.9 274.9,766.8 275.7,766.2 276.5,762.5 277.3,763.6 278.1,766.1 278.9,765.5 279.7,764.0 280.5,764.2 281.3,764.5 282.1,763.2 282.9,757.1 283.7,755.6 284.5,753.0 285.3,751.6 286.1,753.5 286.9,749.5 287.7,746.5 288.5,744.2 289.3,743.2 290.1,743.0 290.9,739.7 291.7,736.6 292.5,734.7 293.3,733.1 294.1,735.2 294.9,730.0 295.7,730.9 296.5,726.2 297.3,727.8 298.1,723.9 298.9,724.8 299.7,721.8 300.5,717.7 301.3,715.6 302.1,718.1 302.9,716.0 303.7,713.9 304.5,711.4 305.3,711.6 306.1,709.2 306.9,704.9 307.7,705.9 308.5,702.9 309.3,703.8 310.1,700.7 310.9,699.8 311.7,694.2 312.5,694.8 313.3,692.9 314.1,692.3 314.9,690.9 315.7,687.0 316.5,684.6 317.3,683.0 318.1,677.5 318.9,675.9 319.7,674.9 320.5,671.5 321.3,668.3 322.1,667.4 322.9,665.3 323.7,657.0 324.5,650.6 325.3,649.0 326.1,643.7 326.9,646.0 327.7,642.2 328.5,643.0 329.3,645.9 330.1,648.0 330.9,645.2 331.7,647.8 332.5,648.2 333.3,651.3 334.1,651.5 334.9,657.4 335.7,655.9 336.5,655.7 337.3,658.8 338.1,659.3 338.9,656.6 339.7,657.1 340.5,658.3 341.3,655.9 342.1,655.1 342.9,659.3 343.7,656.4 344.5,659.0 345.3,659.9 346.1,659.2 346.9,657.6 347.7,660.2 348.5,660.4 349.3,656.2 350.1,660.0 350.9,659.4 351.7,657.2 352.5,655.9 353.3,655.2 354.1,659.2 354.9,660.4 355.7,657.7 356.5,656.1 357.3,655.0 358.1,656.7 358.9,656.5 359.7,654.9 360.5,656.0 361.3,659.3 362.1,655.7 362.9,656.8 363.7,657.7 364.5,655.8 365.3,654.6 366.1,654.5 366.9,654.8 367.7,659.9 368.5,660.4 369.3,659.6 370.1,660.6 370.9,657.4 371.7,656.1 372.5,659.5 373.3,658.7 374.1,660.4 374.9,657.5 375.7,657.0 376.5,658.7 377.3,660.1 378.1,656.2 378.9,655.8 379.7,654.2 380.5,657.0 381.3,659.9 382.1,658.5 382.9,655.7 383.7,658.2 384.5,658.6 385.3,655.5 386.1,659.5 386.9,659.0 387.7,657.9 388.5,656.8 389.3,655.4 390.1,656.9 390.9,656.7 391.7,655.8 392.5,658.1 393.3,658.8 394.1,660.7 394.9,661.2 395.7,658.4 396.5,659.2 397.3,657.4 398.1,657.3 398.9,658.1 399.7,660.7 400.5,655.8 401.3,657.1 402.1,656.7 402.9,659.4 403.7,660.9 404.5,658.5 405.3,655.5 406.1,657.9 406.9,658.4 407.7,659.1 408.5,659.9 409.3,658.2 410.1,658.3 410.9,659.6 411.7,655.6 412.5,655.8 413.3,658.6 414.1,661.0 414.9,661.4 415.7,657.6 416.5,660.7 417.3,657.4 418.1,657.6 418.9,655.9 419.7,658.2 420.5,657.5 421.3,659.0 422.1,661.1 422.9,656.7 423.7,658.7 424.5,658.9 425.3,657.0 426.1,655.1 426.9,660.0 427.7,659.8 428.5,659.4 429.3,656.1 430.1,660.1 430.9,658.1 431.7,658.0 432.5,658.5 433.3,658.0 434.1,660.9 434.9,658.8 435.7,659.5 436.5,660.2 437.3,661.4 438.1,657.2 438.9,657.1 439.7,660.7 440.5,659.6 441.3,657.9 442.1,660.6 442.9,656.7 443.7,656.5 444.5,655.4 445.3,658.7 446.1,658.4 446.9,657.3 447.7,657.8 448.5,656.9 449.3,659.3 450.1,660.3 450.9,658.3 451.7,660.7 452.5,656.4 453.3,658.4 454.1,656.5 454.9,655.8 455.7,658.3 456.5,656.1 457.3,655.5 458.1,655.7 458.9,657.2 459.7,660.3 460.5,657.8 461.3,656.2 462.1,659.7 462.9,660.8 463.7,662.2 464.5,656.9 465.3,656.3 466.1,657.8 466.9,661.4 467.7,659.7 468.5,661.3 469.3,657.8 470.1,658.4 470.9,659.8 471.7,657.5 472.5,658.6 473.3,660.7 474.1,661.2 474.9,660.6 475.7,661.3 476.5,662.5 477.3,660.4 478.1,657.8 478.9,657.0 479.7,655.8 480.5,660.7 481.3,659.8 482.1,659.8 482.9,661.4 483.7,660.8 484.5,658.8 485.3,659.5 486.1,656.7 486.9,657.0 487.7,657.6 488.5,660.5 489.3,660.4 490.1,660.1 490.9,658.7 491.7,658.2 492.5,658.2 493.3,656.2 494.1,657.6 494.9,661.2 495.7,661.6 496.5,658.3 497.3,659.0 498.1,660.6 498.9,657.8 499.7,658.0 500.5,659.5 501.3,657.5 502.1,661.3 502.9,656.9 503.7,661.0 504.5,660.7 505.3,659.1 506.1,658.0 506.9,661.2 507.7,661.1 508.5,658.1 509.3,658.0 510.1,656.6 510.9,659.5 511.7,659.0 512.5,658.2 513.3,660.4 514.1,658.2 514.9,657.0 515.7,660.6 516.5,662.1 517.3,662.0" fill="none" stroke="#E41414" stroke-width="1.6" stroke-linejoin="round"/>
<polyline points="72.5,753.0 73.3,753.3 74.1,754.6 74.9,753.4 75.7,753.1 76.5,753.3 77.3,751.9 78.1,752.6 78.9,753.2 79.7,753.9 80.5,751.6 81.3,751.7 82.1,750.9 82.9,753.2 83.7,753.4 84.5,751.1 85.3,753.7 86.1,754.4 86.9,753.5 87.7,753.1 88.5,751.3 89.3,750.2 90.1,751.7 90.9,750.4 91.7,750.5 92.5,750.7 93.3,749.9 94.1,751.2 94.9,751.5 95.7,752.9 96.5,752.2 97.3,752.4 98.1,751.9 98.9,752.3 99.7,751.7 100.5,750.8 101.3,753.1 102.1,753.7 102.9,753.3 103.7,752.7 104.5,751.1 105.3,750.3 106.1,750.2 106.9,749.4 107.7,751.6 108.5,750.9 109.3,752.3 110.1,751.0 110.9,752.6 111.7,752.7 112.5,749.7 113.3,749.5 114.1,751.9 114.9,751.0 115.7,752.5 116.5,750.9 117.3,749.2 118.1,750.6 118.9,751.6 119.7,750.0 120.5,748.8 121.3,749.3 122.1,751.6 122.9,751.6 123.7,749.2 124.5,748.9 125.3,748.3 126.1,747.9 126.9,750.4 127.7,748.9 128.5,749.7 129.3,749.5 130.1,748.5 130.9,750.1 131.7,748.4 132.5,749.6 133.3,748.1 134.1,748.7 134.9,748.1 135.7,748.0 136.5,750.4 137.3,750.5 138.1,748.8 138.9,750.2 139.7,748.2 140.5,748.2 141.3,749.8 142.1,749.5 142.9,747.4 143.7,749.9 144.5,747.9 145.3,747.4 146.1,749.0 146.9,747.9 147.7,747.4 148.5,746.4 149.3,746.1 150.1,747.7 150.9,747.0 151.7,747.9 152.5,747.4 153.3,747.5 154.1,749.2 154.9,748.0 155.7,747.9 156.5,748.9 157.3,746.7 158.1,745.9 158.9,748.3 159.7,748.6 160.5,746.7 161.3,745.9 162.1,747.5 162.9,748.7 163.7,746.3 164.5,748.2 165.3,748.5 166.1,747.6 166.9,746.6 167.7,745.1 168.5,744.4 169.3,747.4 170.1,745.7 170.9,746.8 171.7,745.5 172.5,747.1 173.3,746.7 174.1,745.4 174.9,744.6 175.7,746.2 176.5,744.4 177.3,744.3 178.1,745.4 178.9,746.7 179.7,746.2 180.5,744.9 181.3,746.7 182.1,744.6 182.9,743.3 183.7,743.7 184.5,744.5 185.3,743.3 186.1,743.3 186.9,743.9 187.7,744.7 188.5,743.4 189.3,743.8 190.1,745.7 190.9,746.5 191.7,745.6 192.5,745.4 193.3,744.9 194.1,743.1 194.9,742.2 195.7,741.8 196.5,744.8 197.3,744.9 198.1,745.8 198.9,742.7 199.7,743.9 200.5,743.6 201.3,744.4 202.1,743.1 202.9,745.1 203.7,742.4 204.5,743.1 205.3,744.0 206.1,744.8 206.9,744.4 207.7,744.1 208.5,744.3 209.3,744.7 210.1,742.8 210.9,743.4 211.7,744.2 212.5,744.3 213.3,742.7 214.1,743.5 214.9,743.9 215.7,742.9 216.5,742.8 217.3,741.8 218.1,742.2 218.9,742.3 219.7,740.4 220.5,741.8 221.3,743.3 222.1,743.4 222.9,742.8 223.7,741.3 224.5,742.1 225.3,741.7 226.1,741.0 226.9,742.2 227.7,739.8 228.5,741.4 229.3,739.2 230.1,740.5 230.9,740.5 231.7,739.5 232.5,740.8 233.3,740.4 234.1,740.6 234.9,741.7 235.7,739.7 236.5,738.1 237.3,738.6 238.1,740.0 238.9,738.7 239.7,738.1 240.5,740.5 241.3,740.3 242.1,739.4 242.9,740.6 243.7,739.0 244.5,739.6 245.3,738.1 246.1,738.4 246.9,739.7 247.7,740.5 248.5,740.5 249.3,738.8 250.1,738.9 250.9,738.0 251.7,737.0 252.5,738.0 253.3,739.4 254.1,739.8 254.9,739.4 255.7,740.0 256.5,737.1 257.3,735.3 258.1,735.3 258.9,734.1 259.7,733.0 260.5,732.9 261.3,733.1 262.1,732.2 262.9,730.7 263.7,731.6 264.5,731.9 265.3,729.6 266.1,727.0 266.9,725.3 267.7,727.0 268.5,723.9 269.3,724.6 270.1,723.7 270.9,721.7 271.7,722.1 272.5,718.8 273.3,717.5 274.1,717.6 274.9,715.6 275.7,717.3 276.5,715.2 277.3,713.8 278.1,712.5 278.9,713.6 279.7,712.8 280.5,712.7 281.3,712.3 282.1,712.2 282.9,712.2 283.7,710.7 284.5,708.0 285.3,707.7 286.1,706.0 286.9,704.4 287.7,705.0 288.5,705.6 289.3,703.3 290.1,702.5 290.9,702.0 291.7,702.6 292.5,701.6 293.3,701.1 294.1,701.0 294.9,699.1 295.7,699.5 296.5,699.5 297.3,696.1 298.1,697.5 298.9,696.7 299.7,693.8 300.5,693.5 301.3,693.4 302.1,693.7 302.9,691.4 303.7,690.7 304.5,691.0 305.3,690.2 306.1,689.9 306.9,687.5 307.7,686.8 308.5,684.4 309.3,685.0 310.1,684.8 310.9,683.6 311.7,682.9 312.5,680.2 313.3,681.1 314.1,681.0 314.9,680.2 315.7,677.7 316.5,677.2 317.3,674.6 318.1,675.3 318.9,674.6 319.7,671.9 320.5,669.4 321.3,669.1 322.1,668.6 322.9,668.4 323.7,666.6 324.5,663.6 325.3,664.7 326.1,661.8 326.9,663.2 327.7,661.0 328.5,660.5 329.3,661.8 330.1,660.2 330.9,659.8 331.7,661.1 332.5,662.3 333.3,663.2 334.1,663.0 334.9,664.0 335.7,662.8 336.5,664.1 337.3,661.6 338.1,661.4 338.9,662.5 339.7,662.1 340.5,663.5 341.3,663.6 342.1,663.2 342.9,664.2 343.7,663.5 344.5,662.4 345.3,662.2 346.1,663.8 346.9,664.5 347.7,662.2 348.5,663.8 349.3,664.6 350.1,663.3 350.9,663.1 351.7,661.7 352.5,662.4 353.3,662.5 354.1,662.8 354.9,660.9 355.7,663.6 356.5,662.8 357.3,662.1 358.1,663.3 358.9,662.8 359.7,662.4 360.5,663.0 361.3,660.9 362.1,661.9 362.9,661.8 363.7,663.6 364.5,664.0 365.3,661.8 366.1,661.9 366.9,660.6 367.7,661.3 368.5,662.9 369.3,663.6 370.1,662.3 370.9,661.3 371.7,660.6 372.5,661.8 373.3,663.3 374.1,660.9 374.9,662.4 375.7,660.2 376.5,660.1 377.3,660.2 378.1,661.8 378.9,661.0 379.7,660.9 380.5,661.7 381.3,660.2 382.1,661.9 382.9,660.2 383.7,661.1 384.5,660.4 385.3,660.0 386.1,661.0 386.9,661.0 387.7,660.7 388.5,660.8 389.3,661.2 390.1,659.9 390.9,659.7 391.7,661.1 392.5,661.6 393.3,661.3 394.1,662.3 394.9,661.8 395.7,662.4 396.5,660.4 397.3,661.6 398.1,662.2 398.9,662.6 399.7,660.7 400.5,660.1 401.3,662.0 402.1,660.1 402.9,662.3 403.7,662.5 404.5,659.9 405.3,659.5 406.1,661.0 406.9,659.8 407.7,658.9 408.5,661.2 409.3,660.4 410.1,661.4 410.9,659.4 411.7,659.7 412.5,660.8 413.3,658.7 414.1,658.8 414.9,660.4 415.7,661.7 416.5,662.3 417.3,659.4 418.1,659.9 418.9,661.0 419.7,660.3 420.5,660.8 421.3,659.1 422.1,658.2 422.9,658.0 423.7,657.7 424.5,659.4 425.3,659.8 426.1,660.1 426.9,658.6 427.7,658.3 428.5,658.3 429.3,660.5 430.1,661.6 430.9,661.8 431.7,658.8 432.5,657.8 433.3,660.6 434.1,659.7 434.9,660.5 435.7,659.2 436.5,659.2 437.3,659.4 438.1,659.1 438.9,659.6 439.7,657.7 440.5,659.5 441.3,660.6 442.1,658.5 442.9,658.8 443.7,659.9 444.5,659.0 445.3,658.0 446.1,657.6 446.9,658.7 447.7,657.2 448.5,659.9 449.3,660.3 450.1,660.1 450.9,660.5 451.7,659.8 452.5,658.8 453.3,659.2 454.1,658.9 454.9,660.5 455.7,660.3 456.5,658.3 457.3,660.0 458.1,659.9 458.9,660.0 459.7,660.1 460.5,658.7 461.3,660.0 462.1,660.3 462.9,659.7 463.7,659.8 464.5,659.8 465.3,658.5 466.1,659.2 466.9,657.1 467.7,657.4 468.5,657.9 469.3,656.4 470.1,657.2 470.9,658.4 471.7,658.7 472.5,657.3 473.3,659.4 474.1,659.1 474.9,657.8 475.7,658.5 476.5,658.4 477.3,658.2 478.1,657.6 478.9,659.6 479.7,658.9 480.5,658.9 481.3,659.0 482.1,659.8 482.9,656.7 483.7,657.8 484.5,658.6 485.3,657.1 486.1,657.1 486.9,655.9 487.7,656.0 488.5,656.6 489.3,655.8 490.1,656.1 490.9,658.5 491.7,657.9 492.5,657.6 493.3,659.1 494.1,658.1 494.9,659.3 495.7,658.4 496.5,658.7 497.3,656.2 498.1,657.2 498.9,658.1 499.7,655.8 500.5,658.2 501.3,656.2 502.1,656.7 502.9,655.7 503.7,656.6 504.5,657.2 505.3,655.5 506.1,658.0 506.9,656.9 507.7,657.0 508.5,657.2 509.3,656.4 510.1,655.9 510.9,657.0 511.7,657.0 512.5,656.0 513.3,657.2 514.1,656.1 514.9,654.7 515.7,655.1 516.5,654.5 517.3,654.7" fill="none" stroke="#111" stroke-width="1.6" stroke-linejoin="round"/>
<line x1="410" y1="661" x2="410" y2="740" stroke="#111" stroke-width="1.7"/>
<path d="M410,751 L407.8,740 L410,741.5 L412.2,740 z" fill="#111"/>
<line x1="472" y1="661" x2="472" y2="792" stroke="#111" stroke-width="1.7"/>
<path d="M472,803 L469.8,792 L472,793.5 L474.2,792 z" fill="#111"/>
<text x="414" y="714.8" font-size="14">0.6 V</text>
<text x="477" y="737" font-size="14">0.8 V</text>
<rect x="150.7" y="604" width="293" height="28" fill="#fff"/>
<rect x="156" y="608.6" width="23.5" height="6" fill="#3ABCF4"/>
<rect x="156" y="622.6" width="23.5" height="6" fill="#FFA70A"/>
<text x="185" y="615.5" font-size="12.65">CL FM-KPFM;</text>
<text x="185" y="629.5" font-size="12.65">CL AM-KPFM;</text>
<line x1="271" y1="611.5" x2="294" y2="611.5" stroke="#E41414" stroke-width="1.6"/>
<line x1="271" y1="625.2" x2="294" y2="625.2" stroke="#111" stroke-width="1.6"/>
<text x="300" y="615.5" font-size="12.65">OL FM-KPFM frequency</text>
<text x="300" y="629.5" font-size="12.65">OL FM-KPFM amplitude</text>
</svg></body></html>
